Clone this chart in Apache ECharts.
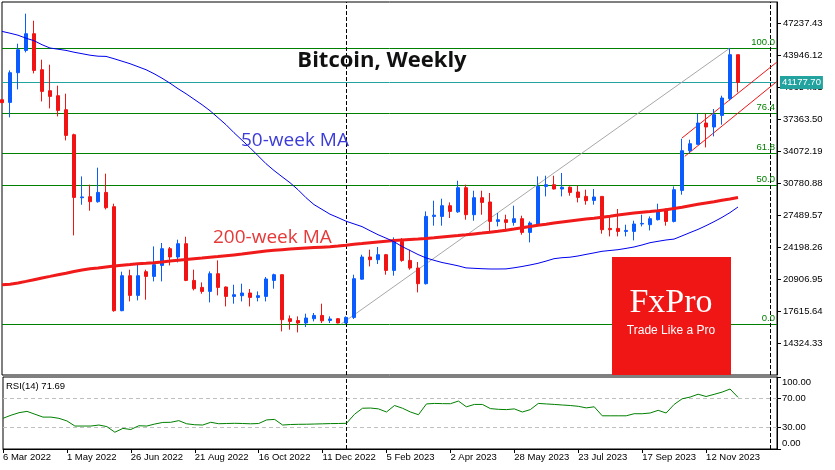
<!DOCTYPE html>
<html><head><meta charset="utf-8">
<script src="https://cdn.jsdelivr.net/npm/echarts@6/dist/echarts.min.js"></script>
<style>html,body{margin:0;padding:0;background:#fff}#c{width:835px;height:470px}</style>
</head><body><div id="c"></div>
<script>
// ---- data (weekly bars, index 0 = week of 6 Mar 2022) ----
const DATE_LABELS = ['6 Mar 2022','1 May 2022','26 Jun 2022','21 Aug 2022','16 Oct 2022','11 Dec 2022','5 Feb 2023','2 Apr 2023','28 May 2023','23 Jul 2023','17 Sep 2023','12 Nov 2023'];
const X_TICK_WEEKS = [0, 8, 16, 24, 32, 40, 48, 56, 64, 72, 80, 88];
const Y_TICKS = [14324.33, 17615.64, 20906.95, 24198.26, 27489.57, 30780.88, 34072.19, 37363.50, 40654.81, 43946.12, 47237.43];
const RSI_TICKS = [0, 30, 70, 100];
// [open, high, low, close]
const OHLC = [
[39400,39450,39050,39100],[39125,42423,37579,42186],[42186,45175,40465,44557],[44485,48268,44279,46206],
[46206,47546,42114,42423],[42495,43526,39228,40259],[40331,43011,38506,39743],[39815,40846,37682,38300],
[38372,40021,35208,35723],[35795,35900,25416,29333],[29300,31497,28580,29380],[29404,30641,27961,28889],
[28889,32394,28786,29848],[29848,31775,28094,28270],[28374,28683,17550,17653],[17653,21673,17600,21261],
[21261,21880,18612,19231],[19231,22395,18715,21261],[21673,21880,18787,21189],[21189,24281,20673,22395],
[22323,24631,20673,24044],[24044,24220,22323,23189],[23189,24972,22632,24560],[24560,25282,20700,20777],
[20777,21880,19746,19922],[20054,20570,19406,19642],[19642,21704,18509,21467],[21467,22838,19231,20054],
[20096,20150,18097,19128],[19128,20333,18375,19303],[19200,20436,18612,19478],[19478,19890,18097,19024],
[19024,19642,18612,19200],[19128,21127,18612,20921],[20777,21467,19922,21364],[21364,21400,15519,16725],
[16828,17166,15695,16550],[16640,17066,15417,16385],[16385,17344,15974,16900],[16828,17416,16550,17166],
[17166,18375,16385,16612],[16650,17066,16385,16800],[16828,16900,16350,16385],[16385,17066,16300,16962],
[16962,21364,16800,20952],[20900,23426,20850,23189],[23189,23941,22220,22910],[22910,24220,22468,23426],
[23426,23500,21364,21808],[21808,25209,21261,24797],[24797,25147,22700,22838],[22838,23941,21880,22054],
[22054,22674,19540,20436],[20436,27889,20350,27374],[27374,28992,26415,27500],[27374,29198,26415,28477],
[28477,28817,27208,27889],[27840,31054,27740,30332],[30332,30641,27033,27549],[27549,30023,26930,29301],
[29301,30023,27549,28817],[28860,29786,25827,26858],[26858,27724,26343,27030],[27030,27549,25827,26755],
[26755,28477,26415,27137],[27137,27446,25487,25724],[25724,26858,24694,26693],[26600,31497,26500,30466],
[30466,31566,29436,30641],[30641,31566,30150,30198],[30200,31847,29436,30380],[30380,30466,29508,29848],
[29890,30538,28817,29333],[29436,30126,28580,28992],[29023,30198,28580,29374],[29436,29450,25590,26002],
[26135,27374,25313,26002],[26135,28137,25313,25827],[25827,26518,25313,25930],[25827,26930,24900,26590],
[26590,27549,26343,26650],[26518,27374,25930,27137],[27033,28683,26960,27889],[28137,28180,26415,26858],
[26858,30466,26755,30126],[30054,35383,29611,34146],[34146,35280,33908,34867],[34800,37960,34760,37001],
[37001,37960,34486,36589],[36589,38444,35620,37857],[37785,39815,36826,39578],[39510,44732,39331,44042],
[44042,44050,40156,41177.70]
];
const MA200 = [
20333,20385,20508,20673,20849,21024,21189,21364,21519,21694,
21848,21982,22065,22168,22261,22343,22415,22498,22549,22601,
22683,22766,22859,22931,23013,23075,23158,23240,23323,23405,
23487,23591,23694,23797,23879,23941,24003,24065,24116,24157,
24199,24240,24322,24405,24498,24580,24663,24745,24817,24889,
24951,25003,25054,25106,25178,25260,25333,25405,25487,25570,
25652,25735,25838,25951,26075,26209,26333,26466,26570,26683,
26796,26910,27014,27106,27188,27281,27394,27518,27621,27714,
27796,27878,27961,28064,28188,28322,28477,28621,28755,28889,
29033,29177,29332];
const MA50 = [
46443,46258,46052,45742,45485,45072,44732,44609,44485,44299,
44145,43990,43887,43866,43629,43372,43114,42805,42495,42083,
41619,41104,40537,40021,39455,38888,38269,37548,36826,36001,
35228,34455,33631,32806,32105,31466,30847,30126,29301,28590,
28095,27600,27250,26879,26601,26322,25900,25487,25137,24766,
24271,23859,23446,23096,22848,22622,22457,22281,22065,22024,
21982,21952,21952,21962,22075,22209,22364,22539,22766,23013,
23116,23168,23292,23457,23611,23776,23859,23941,24075,24220,
24426,24663,24807,24941,25034,25364,25704,26034,26415,26827,
27270,27765,28342];
const RSI14 = [
42.6,46.9,50.4,52.3,48.3,44.3,44.3,42.6,39.0,31.9,
31.9,31.9,33.3,31.1,23.3,28.6,27.1,32.3,31.9,34.7,
36.9,37.1,39.4,35.0,33.7,33.3,37.1,35.1,35.4,35.7,
35.4,35.0,35.4,40.4,41.1,33.3,34.0,34.3,34.4,34.7,
35.0,35.3,35.4,35.7,48.3,56.6,56.9,55.7,51.4,60.4,
56.6,51.4,47.6,62.6,63.3,63.0,62.9,66.6,58.6,61.9,
61.9,56.1,55.1,54.7,55.7,51.4,54.7,63.3,62.6,61.9,
61.1,60.4,59.3,57.1,58.6,46.1,46.1,46.1,46.1,49.0,
49.0,50.0,53.7,50.0,61.9,69.7,72.1,76.1,72.9,75.9,
79.0,83.3,71.69];
const LAST_PRICE = 41177.70;
const FIB_NAMES = ['0.0', '50.0', '61.8', '76.4', '100.0'];
const FIB_PRICES = [16282, 30538, 33909, 38032, 44732];
const FIB_TREND = [[42.4, 16282], [91, 44732]];
const CHANNEL_UP = [[85, 35455], [96.875, 43290]];
const CHANNEL_LO = [[85.34, 33558], [96.875, 41290]];
const YEAR_SEPARATORS = [43, 96];
const X_MAX = 96.875;

// ---- chart ----
const FONT = '"Liberation Sans", Arial, sans-serif';
const UP = '#0a5cff', DOWN = '#f01414', TEAL = '#22a3a0', GREEN = '#008000';
const chart = echarts.init(document.getElementById('c'), null, {renderer: 'canvas'});

const candleData = OHLC.map((r, i) => [i, r[0], r[3], r[2], r[1]]);
const solid = (color, w) => ({color: color, width: w || 1, type: 'solid'});

const mainMarks = [];
FIB_PRICES.forEach((p, i) => mainMarks.push({
  yAxis: p, lineStyle: solid(GREEN),
  label: {show: true, formatter: FIB_NAMES[i], position: 'insideEndTop', color: GREEN, fontSize: 9.5, fontFamily: FONT, distance: [2, 1]}
}));
mainMarks.push({
  yAxis: LAST_PRICE, lineStyle: solid(TEAL),
  label: {show: true, position: 'end', formatter: LAST_PRICE.toFixed(2), color: '#fff', backgroundColor: TEAL, padding: [2, 2, 1, 2], fontSize: 9.5, fontFamily: FONT, distance: 3}
});
YEAR_SEPARATORS.forEach(x => mainMarks.push({xAxis: x, lineStyle: {color: '#000', width: 1, type: [4, 2]}, label: {show: false}}));
const seg = (pts, color) => [
  {coord: pts[0], lineStyle: solid(color), label: {show: false}},
  {coord: pts[1], lineStyle: solid(color), label: {show: false}}
];
mainMarks.push(seg(FIB_TREND, '#a8a8a8'));
mainMarks.push(seg(CHANNEL_UP, DOWN));
mainMarks.push(seg(CHANNEL_LO, DOWN));

const rsiMarks = [
  {yAxis: 70, lineStyle: {color: '#c0c0c0', width: 1, type: [4, 3]}, label: {show: false}},
  {yAxis: 30, lineStyle: {color: '#c0c0c0', width: 1, type: [4, 3]}, label: {show: false}}
];
YEAR_SEPARATORS.forEach(x => rsiMarks.push({xAxis: x, lineStyle: {color: '#000', width: 1, type: [4, 2]}, label: {show: false}}));

const option = {
  animation: false,
  backgroundColor: '#fff',
  textStyle: {fontFamily: FONT},
  grid: [
    {left: 2, top: 2, width: 775, height: 373, show: true, borderColor: '#000', borderWidth: 1, backgroundColor: '#fff'},
    {left: 2, top: 377, width: 775, height: 72, show: true, borderColor: '#000', borderWidth: 1, backgroundColor: '#fff'}
  ],
  xAxis: [
    {gridIndex: 0, type: 'value', min: 0, max: X_MAX, show: false, axisLine: {onZero: false}},
    {gridIndex: 1, type: 'value', min: 0, max: X_MAX,
     axisLine: {show: true, onZero: false, lineStyle: {color: '#000'}},
     axisTick: {show: true, length: 4, customValues: X_TICK_WEEKS, lineStyle: {color: '#000'}},
     axisLabel: {customValues: X_TICK_WEEKS, formatter: v => { const j = X_TICK_WEEKS.indexOf(v); return j >= 0 ? DATE_LABELS[j] : ''; },
                 align: 'left', margin: 3, fontSize: 9.5, color: '#000', fontFamily: FONT},
     splitLine: {show: false}}
  ],
  yAxis: [
    {gridIndex: 0, type: 'value', position: 'right', min: 11025, max: 49474,
     axisLine: {show: true, onZero: false, lineStyle: {color: '#000'}},
     axisTick: {show: true, length: 4, customValues: Y_TICKS, lineStyle: {color: '#000'}},
     axisLabel: {customValues: Y_TICKS, formatter: v => v.toFixed(2), margin: 6, fontSize: 9.5, color: '#000', fontFamily: FONT},
     splitLine: {show: false}},
    {gridIndex: 1, type: 'value', position: 'right', min: 0, max: 100,
     axisLine: {show: true, onZero: false, lineStyle: {color: '#000'}},
     axisTick: {show: true, length: 4, customValues: RSI_TICKS, lineStyle: {color: '#000'}},
     axisLabel: {customValues: RSI_TICKS, margin: 5, fontSize: 9.5, color: '#000', fontFamily: FONT,
       formatter: v => v === 100 ? '{t|100.00}' : (v === 0 ? '{b|0.00}' : v.toFixed(2)),
       rich: {t: {padding: [11, 0, 0, 0], fontSize: 9.5, color: '#000', fontFamily: FONT},
              b: {padding: [0, 0, 11, 0], fontSize: 9.5, color: '#000', fontFamily: FONT}}},
     splitLine: {show: false}}
  ],
  series: [
    {type: 'candlestick', xAxisIndex: 0, yAxisIndex: 0, data: candleData, barWidth: 4, z: 2,
     itemStyle: {color: UP, color0: DOWN, borderColor: UP, borderColor0: DOWN, borderWidth: 1},
     emphasis: {disabled: true},
     markLine: {silent: true, symbol: ['none', 'none'], z: 1, animation: false, label: {show: false}, data: mainMarks}},
    {type: 'line', name: '200-week MA', xAxisIndex: 0, yAxisIndex: 0, data: MA200.map((v, i) => [i, v]),
     showSymbol: false, z: 3, lineStyle: {color: '#f01a1a', width: 3}, itemStyle: {color: '#f01a1a'}},
    {type: 'line', name: '50-week MA', xAxisIndex: 0, yAxisIndex: 0, data: MA50.map((v, i) => [i, v]),
     showSymbol: false, z: 3, lineStyle: {color: '#0000ee', width: 1}, itemStyle: {color: '#0000ee'}},
    {type: 'line', name: 'RSI(14)', xAxisIndex: 1, yAxisIndex: 1, data: RSI14.map((v, i) => [i, v]),
     showSymbol: false, z: 3, lineStyle: {color: GREEN, width: 1}, itemStyle: {color: GREEN},
     markLine: {silent: true, symbol: ['none', 'none'], z: 1, animation: false, label: {show: false}, data: rsiMarks}}
  ],
  graphic: [
    {type: 'text', x: 382, y: 61, z: 20, style: {text: 'Bitcoin, Weekly', font: 'bold 22px "Open Sans"', fill: '#111', align: 'center', verticalAlign: 'middle'}},
    {type: 'text', x: 241, y: 141, z: 20, style: {text: '50-week MA', font: '19px "Open Sans"', fill: '#3c3cd8', align: 'left', verticalAlign: 'middle'}},
    {type: 'text', x: 213, y: 238, z: 20, style: {text: '200-week MA', font: '19px "Open Sans"', fill: '#e63939', align: 'left', verticalAlign: 'middle'}},
    {type: 'rect', z: 20, shape: {x: 612, y: 257, width: 119, height: 118}, style: {fill: '#f01616'}},
    {type: 'text', x: 671, y: 303, z: 21, style: {text: 'FxPro', font: '34px "Liberation Serif"', fill: '#fff', align: 'center', verticalAlign: 'middle'}},
    {type: 'text', x: 671, y: 331, z: 21, style: {text: 'Trade Like a Pro', font: '12px "Liberation Sans"', fill: '#fff', align: 'center', verticalAlign: 'middle'}},
    {type: 'text', x: 6, y: 386.5, z: 20, style: {text: 'RSI(14) ' + RSI14[RSI14.length - 1].toFixed(2), font: '9.5px "Liberation Sans"', fill: '#000', align: 'left', verticalAlign: 'middle'}}
  ]
};
chart.setOption(option);
</script></body></html>
